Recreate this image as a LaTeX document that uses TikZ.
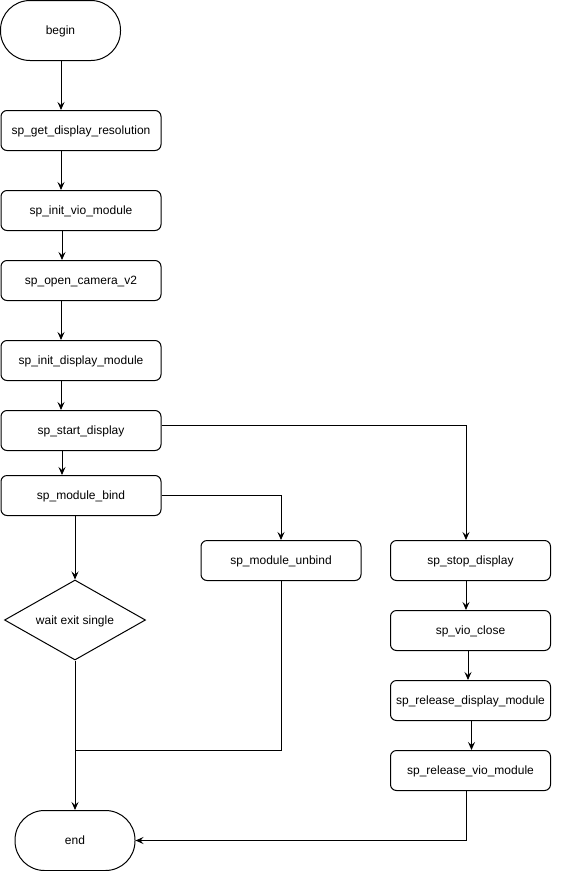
\documentclass[tikz,border=0pt]{standalone}
\usepackage{fontspec}
\setmainfont{Liberation Sans}
\usetikzlibrary{shapes.geometric,arrows.meta}
\begin{document}
\begin{tikzpicture}[x=1pt,y=-1pt,
  every node/.style={font=\fontsize{12}{14}\selectfont, inner sep=0pt, text height=10.9pt, text depth=2.6pt},
  box/.style={draw, line width=1pt, rounded corners=6pt, minimum width=160pt, minimum height=40pt},
  term/.style={draw, line width=1pt, rounded corners=29.5pt, minimum width=120pt, minimum height=60pt},
  dec/.style={draw, line width=1pt, diamond, aspect=1.75, minimum width=141pt, minimum height=80pt},
  arr/.style={line width=1pt, -{Stealth[length=8pt,width=7pt,inset=3pt]}},
  ln/.style={line width=1pt}]
\useasboundingbox (0,0) rectangle (571,871);
\node[term] (begin) at (60.5,30.5) {begin};
\node[box] (gdr) at (81,130.5) {sp\_get\_display\_resolution};
\node[box] (ivm) at (81,210.5) {sp\_init\_vio\_module};
\node[box] (ocv) at (81,280.5) {sp\_open\_camera\_v2};
\node[box] (idm) at (81,360.5) {sp\_init\_display\_module};
\node[box] (sd) at (81,430.5) {sp\_start\_display};
\node[box] (mb) at (81,495.5) {sp\_module\_bind};
\node[box] (mu) at (281,560.5) {sp\_module\_unbind};
\node[dec] (wes) at (75,620) {wait exit single};
\node[term] (end) at (75,840.5) {end};
\node[box] (std) at (470.5,560.5) {sp\_stop\_display};
\node[box] (vc) at (470.5,630.5) {sp\_vio\_close};
\node[box] (rdm) at (470.5,700.5) {sp\_release\_display\_module};
\node[box] (rvm) at (470.5,770.5) {sp\_release\_vio\_module};
\coordinate (xa) at (61,0);
\coordinate (xb) at (62,0);
\coordinate (xc) at (75,0);
\coordinate (xd) at (281,0);
\coordinate (xe) at (466,0);
\coordinate (xf) at (468,0);
\coordinate (xg) at (471.5,0);
\coordinate (yj) at (0,750);
\draw[arr] (begin.south -| xa) -- (gdr.north -| xa);
\draw[arr] (gdr.south -| xa) -- (ivm.north -| xa);
\draw[arr] (ivm.south -| xb) -- (ocv.north -| xb);
\draw[arr] (ocv.south -| xa) -- (idm.north -| xa);
\draw[arr] (idm.south -| xa) -- (sd.north -| xa);
\draw[arr] (sd.south -| xb) -- (mb.north -| xb);
\draw[arr] (sd.east |- 0,425.5) -| (std.north -| xe);
\draw[arr] (mb.east) -| (mu.north -| xd);
\draw[arr] (mb.south -| xc) -- (wes.north);
\draw[arr] (wes.south) -- (end.north);
\draw[ln] (mu.south -| xd) |- (yj -| xc);
\draw[arr] (std.south -| xe) -- (vc.north -| xe);
\draw[arr] (vc.south -| xf) -- (rdm.north -| xf);
\draw[arr] (rdm.south -| xg) -- (rvm.north -| xg);
\draw[arr] (rvm.south -| xe) |- (end.east);
\end{tikzpicture}
\end{document}
